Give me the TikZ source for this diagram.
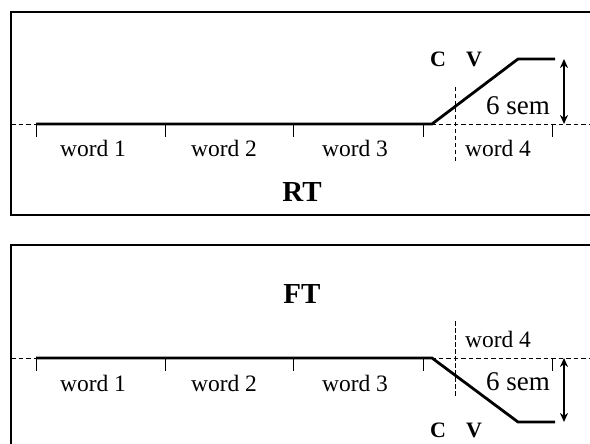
\documentclass[tikz,border=0pt]{standalone}
\usepackage{fontspec}
\setmainfont{Liberation Serif}
\usetikzlibrary{arrows.meta}
\begin{document}
\begin{tikzpicture}[x=1pt,y=-1pt,
  panel/.style={line width=1.4pt},
  base/.style={line width=0.9pt,dash pattern=on 4.5pt off 3pt},
  vdash/.style={line width=0.9pt,dash pattern=on 4.5pt off 2.5pt},
  tick/.style={line width=1pt},
  contour/.style={line width=2.8pt},
  span/.style={line width=1.8pt,{Stealth[length=9pt,width=8pt]}-{Stealth[length=9pt,width=8pt]}},
  wlab/.style={font=\fontsize{23.5}{23.5}\selectfont,inner sep=0pt},
  slab/.style={font=\fontsize{27}{27}\selectfont,inner sep=0pt},
  cvlab/.style={font=\fontsize{22}{22}\selectfont\bfseries,inner sep=0pt},
  title/.style={font=\fontsize{29}{29}\selectfont\bfseries,inner sep=0pt}]
\clip (0,0) rectangle (590,444);
% ---------- RT panel ----------
\draw[panel] (11,12) rectangle (600,215);
\coordinate (rb0) at (11,124); \coordinate (rb1) at (595,124);
\draw[base] (rb0) -- (rb1);
\foreach \x in {36,165,293,423,552} \draw[tick] (\x,124) -- (\x,137);
\coordinate (r1) at (36,124); \coordinate (r2) at (432,124);
\coordinate (r3) at (518,59); \coordinate (r4) at (555,59);
\draw[contour] (r1) -- (r2) -- (r3) -- (r4);
\coordinate (rv1) at (455,87); \coordinate (rv2) at (455,162);
\draw[vdash] (rv1) -- (rv2);
\coordinate (ra1) at (564,59); \coordinate (ra2) at (564,124);
\draw[span] (ra1) -- (ra2);
\node[wlab] (rw1) at (93,148) {word 1};
\node[wlab] (rw2) at (224,148) {word 2};
\node[wlab] (rw3) at (355,148) {word 3};
\node[wlab] (rw4) at (498,148) {word 4};
\node[slab] (rsem) at (518,106) {6 sem};
\node[cvlab] (rC) at (438,59) {C};
\node[cvlab] (rV) at (474,59) {V};
\node[title] (rt) at (302,192) {RT};
% ---------- FT panel ----------
\draw[panel] (11,245) rectangle (600,460);
\coordinate (fb0) at (11,358); \coordinate (fb1) at (595,358);
\draw[base] (fb0) -- (fb1);
\foreach \x in {36,165,293,423,552} \draw[tick] (\x,358) -- (\x,371);
\coordinate (f1) at (36,358); \coordinate (f2) at (432,358);
\coordinate (f3) at (518,422); \coordinate (f4) at (555,422);
\draw[contour] (f1) -- (f2) -- (f3) -- (f4);
\coordinate (fv1) at (455,321); \coordinate (fv2) at (455,398);
\draw[vdash] (fv1) -- (fv2);
\coordinate (fa1) at (564,358); \coordinate (fa2) at (564,422);
\draw[span] (fa1) -- (fa2);
\node[wlab] (fw1) at (93,383) {word 1};
\node[wlab] (fw2) at (224,383) {word 2};
\node[wlab] (fw3) at (355,383) {word 3};
\node[wlab] (fw4) at (498,339) {word 4};
\node[slab] (fsem) at (518,382) {6 sem};
\node[cvlab] (fC) at (438,430) {C};
\node[cvlab] (fV) at (474,430) {V};
\node[title] (ft) at (302,294) {FT};
\end{tikzpicture}
\end{document}
